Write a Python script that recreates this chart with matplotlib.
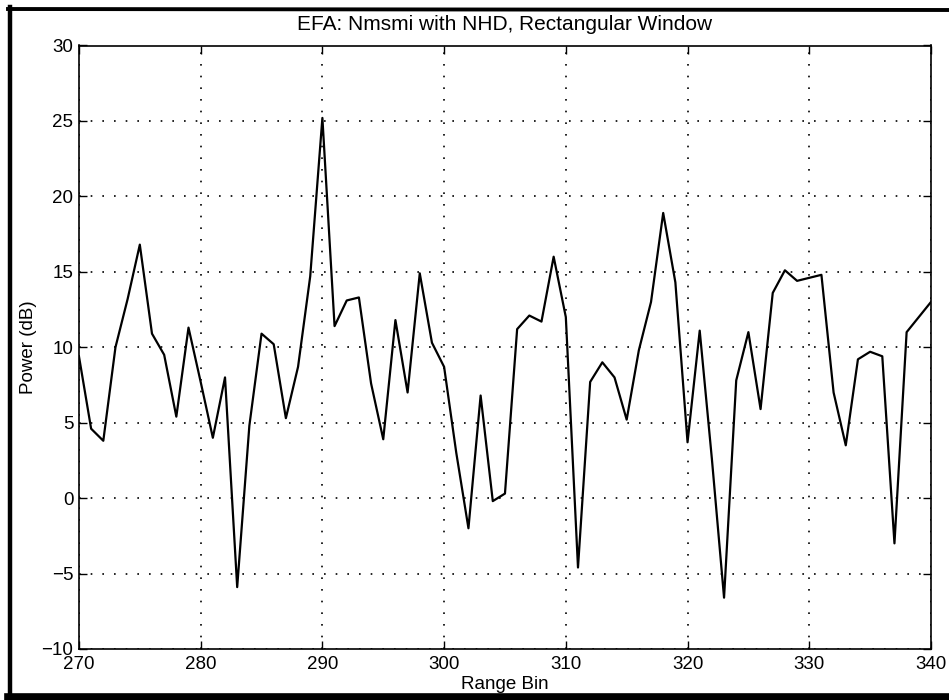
import matplotlib
matplotlib.use("Agg")
import matplotlib.pyplot as plt
from matplotlib.lines import Line2D
import numpy as np

# Range bins and measured power (dB)
range_bins = np.arange(270, 341)
power_db = [
    9.4, 4.6, 3.8, 10.0, 13.2, 16.8, 10.9, 9.5, 5.4, 11.3,
    7.7, 4.0, 8.0, -5.9, 4.8, 10.9, 10.2, 5.3, 8.7, 14.7,
    25.2, 11.4, 13.1, 13.3, 7.6, 3.9, 11.8, 7.0, 14.9, 10.3,
    8.7, 3.0, -2.0, 6.8, -0.2, 0.3, 11.2, 12.1, 11.7, 16.0,
    12.0, -4.6, 7.7, 9.0, 8.0, 5.2, 9.8, 13.0, 18.9, 14.3,
    3.7, 11.1, 2.6, -6.6, 7.8, 11.0, 5.9, 13.6, 15.1, 14.4,
    14.6, 14.8, 7.0, 3.5, 9.2, 9.7, 9.4, -3.0, 11.0, 12.0, 13.0,
]

x_ticks = [270, 280, 290, 300, 310, 320, 330, 340]
y_ticks = [-10, -5, 0, 5, 10, 15, 20, 25, 30]

plt.rcParams["font.family"] = ["Liberation Sans", "DejaVu Sans"]

fig = plt.figure(figsize=(9.49, 7.0), dpi=100)
ax = fig.add_axes([0.0832, 0.0729, 0.8978, 0.8621])

ax.plot(range_bins, power_db, color="black", linewidth=1.6)

ax.set_xlim(270, 340)
ax.set_ylim(-10, 30)
ax.set_xticks(x_ticks)
ax.set_yticks(y_ticks)
ax.tick_params(direction="in", length=6, width=1.0, top=True, right=True,
               labelsize=13.5, colors="black")
ax.tick_params(axis="x", pad=5)
ax.tick_params(axis="y", pad=4)
for s in ax.spines.values():
    s.set_linewidth(1.2)

ax.grid(True, color="black", linestyle=(0, (1, 6)), linewidth=1.2)

ax.set_title("EFA: Nmsmi with NHD, Rectangular Window", fontsize=15, pad=11)
ax.set_xlabel("Range Bin", fontsize=13.5, labelpad=2)
ax.set_ylabel("Power (dB)", fontsize=13.5, labelpad=3)

# Page frame around the figure
W, H = 949.0, 700.0
fig.add_artist(Line2D([10 / W, 10 / W], [1 - 7 / H, 1 - 696 / H],
                      transform=fig.transFigure, color="black", linewidth=3.2))
fig.add_artist(Line2D([8 / W, 1.0], [1 - 9 / H, 1 - 10 / H],
                      transform=fig.transFigure, color="black", linewidth=2.8))
fig.add_artist(Line2D([8 / W, 1.0], [1 - 696.5 / H, 1 - 696.5 / H],
                      transform=fig.transFigure, color="black", linewidth=5.5))

fig.savefig("out.png", dpi=100)
